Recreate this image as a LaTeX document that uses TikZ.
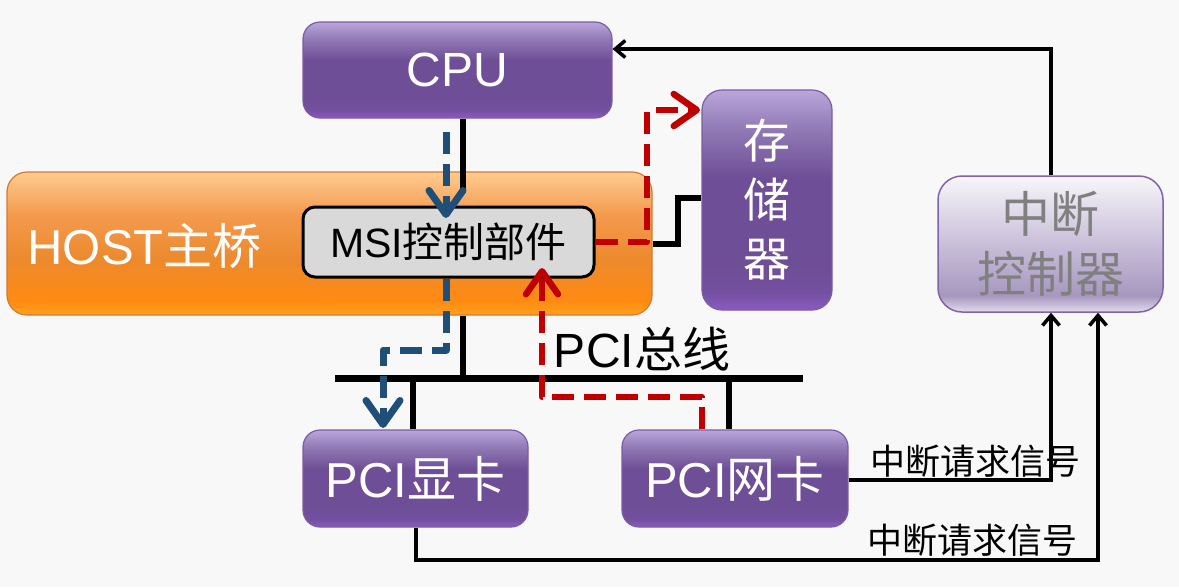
\documentclass[tikz,border=0pt]{standalone}
\usepackage{fontspec}
\setmainfont{Liberation Sans}
\newfontfamily\cjk{Noto Sans CJK SC}
\newcommand\cjkt[1]{{\cjk #1}}
\usetikzlibrary{arrows.meta}

\definecolor{bg}{HTML}{F8F8F8}
\definecolor{purpTop}{HTML}{BBA6DA}
\definecolor{purpUp}{HTML}{9079B5}
\definecolor{purpMid}{HTML}{6E4E96}
\definecolor{purpLow}{HTML}{7450A0}
\definecolor{purpBot}{HTML}{8A5BC2}
\definecolor{purpBorder}{HTML}{7A5CA8}
\definecolor{orTop}{HTML}{FFCB8F}
\definecolor{orUp}{HTML}{F49A4E}
\definecolor{orMid}{HTML}{EC8A2E}
\definecolor{orLow}{HTML}{FF8A12}
\definecolor{orBot}{HTML}{FFA21E}
\definecolor{orBorder}{HTML}{D07A36}
\definecolor{icTop}{HTML}{F7F6F9}
\definecolor{icMid}{HTML}{C9BFD9}
\definecolor{icLow}{HTML}{A797BF}
\definecolor{icBot}{HTML}{E2DCEC}
\definecolor{icBorder}{HTML}{8064A8}
\definecolor{icText}{HTML}{808080}
\definecolor{msiFill}{HTML}{D9D9D9}
\definecolor{blueArr}{HTML}{1F4E79}
\definecolor{redArr}{HTML}{C00000}

\pgfdeclareverticalshading{purpsh}{100bp}{color(0bp)=(purpBot); color(25bp)=(purpBot); color(29bp)=(purpLow); color(36bp)=(purpMid); color(55bp)=(purpMid); color(66bp)=(purpUp); color(75bp)=(purpTop); color(100bp)=(purpTop)}
\pgfdeclareverticalshading{orsh}{100bp}{color(0bp)=(orBot); color(25bp)=(orBot); color(30bp)=(orLow); color(45bp)=(orMid); color(60bp)=(orUp); color(75bp)=(orTop); color(100bp)=(orTop)}
\pgfdeclareverticalshading{icsh}{100bp}{color(0bp)=(icBot); color(25bp)=(icBot); color(31bp)=(icLow); color(50bp)=(icMid); color(75bp)=(icTop); color(100bp)=(icTop)}

\tikzset{
  purpbox/.style={rectangle, rounded corners=17pt, draw=purpBorder, line width=1.2pt, shade, shading=purpsh, text=white, inner sep=0pt},
  orbox/.style={rectangle, rounded corners=20pt, draw=orBorder, line width=1.2pt, shade, shading=orsh, inner sep=0pt},
  icbox/.style={rectangle, rounded corners=24pt, draw=icBorder, line width=1.5pt, shade, shading=icsh, text=icText, inner sep=0pt},
  msibox/.style={rectangle, rounded corners=12pt, draw=black, line width=3pt, fill=msiFill, inner sep=0pt},
  blk/.style={draw=black, line width=6pt},
  buswire/.style={draw=black, line width=7pt},
  sig/.style={draw=black, line width=3.5pt, -{Straight Barb[length=10pt,width=17pt]}},
  bluedash/.style={draw=blueArr, line width=7pt, dash pattern=on 22pt off 10pt, line join=round, -{Straight Barb[length=24pt,width=34pt,line cap=round,line join=round]}},
  reddash/.style={draw=redArr, line width=6.5pt, dash pattern=on 22pt off 10pt, line join=round, -{Straight Barb[length=23pt,width=32pt,line cap=round,line join=round]}},
  bigfont/.style={font=\fontsize{49}{52}\selectfont},
}

\begin{document}
\begin{tikzpicture}[x=1pt,y=-1pt]
\fill[bg] (0,0) rectangle (1179,587);
\useasboundingbox (0,0) rectangle (1179,587);

% boxes
\node[orbox, minimum width=645pt, minimum height=143pt] (host) at (329.5,243.5) {};
\node[text=white, anchor=west, font=\fontsize{49}{52}\selectfont] (hostlbl) at (24,246) {HOST\cjkt{主桥}};
\node[msibox, minimum width=291pt, minimum height=70pt, font=\fontsize{41}{44}\selectfont] (msi) at (448.5,242) {MSI\cjkt{控制部件}};
\node[purpbox, font=\fontsize{48}{52}\selectfont, minimum width=309pt, minimum height=96pt] (cpu) at (457.5,70) {CPU};
\node[purpbox, rounded corners=20pt, minimum width=130pt, minimum height=220pt, align=center, font=\cjk\fontsize{47}{59}\selectfont] (mem) at (767,200) {存\\储\\器};
\node[icbox, minimum width=225pt, minimum height=136pt, align=center, font=\cjk\fontsize{49}{60}\selectfont] (intc) at (1050.5,244) {中断\\控制器};
\node[purpbox, bigfont, minimum width=225pt, minimum height=97pt] (gpu) at (415.5,478.5) {PCI\cjkt{显卡}};
\node[purpbox, bigfont, minimum width=226pt, minimum height=97pt] (nic) at (735,478.5) {PCI\cjkt{网卡}};

% labels
\node[font=\fontsize{48}{50}\selectfont] (buslbl) at (642,349) {PCI\cjkt{总线}};
\node[font=\cjk\fontsize{35}{38}\selectfont] (irq1) at (975,461) {中断请求信号};
\node[font=\cjk\fontsize{35}{38}\selectfont] (irq2) at (972,540) {中断请求信号};

% coordinates
\coordinate (cpuJ) at (463,193);
\coordinate (busL) at (335,378);
\coordinate (busR) at (803,378);
\coordinate (gpuJ) at (413,378);
\coordinate (nicJ) at (729,378);
\coordinate (memK) at (678,198);
\coordinate (b1s) at (446,132);
\coordinate (b1e) at (446,218);
\coordinate (b2a) at (446,350);
\coordinate (b2b) at (383,350);
\coordinate (b2e) at (383,428);
\coordinate (r1a) at (702,397);
\coordinate (r1b) at (542,268);
\coordinate (r2a) at (647,110);
\coordinate (r2e) at (700,110);
\coordinate (icA) at (1051,49);
\coordinate (icB) at (1051,480);
\coordinate (icC) at (416,560);
\coordinate (icD) at (1098,560);

% black wires
\draw[blk] (cpuJ |- cpu.south) -- (cpuJ);
\draw[blk] (cpuJ |- host.south) -- (cpuJ |- busL);
\draw[buswire] (busL) -- (busR);
\draw[blk] (gpuJ) -- (gpuJ |- gpu.north);
\draw[blk] (nicJ) -- (nicJ |- nic.north);
\draw[blk] (host.east) -| (memK) -- (memK -| mem.west);

% interrupt signals
\draw[sig] (icA |- intc.north) -- (icA) -- (icA -| cpu.east);
\draw[sig] (icB -| nic.east) -- (icB) -- (icB |- intc.south);
\draw[sig] (icC |- gpu.south) -- (icC) -- (icD) -- (icD |- intc.south);

% MSI flows
\draw[bluedash] (b1s) -- (b1e);
\draw[bluedash] (b2a |- msi.south) -- (b2a) -- (b2b) -- (b2e);
\draw[reddash] (r1a |- nic.north) -- (r1a) -| (r1b);
\draw[reddash] (msi.east) -| (r2a) -- (r2e);
\end{tikzpicture}
\end{document}
